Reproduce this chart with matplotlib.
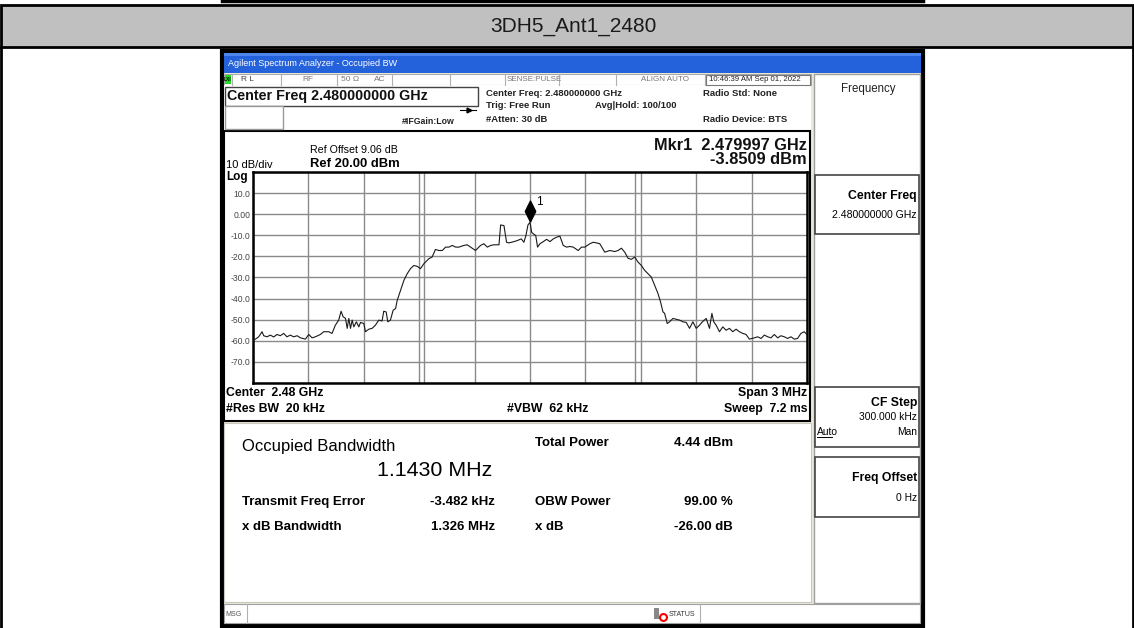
import numpy as np
import matplotlib.pyplot as plt
from matplotlib.patches import Rectangle
from matplotlib.path import Path

plt.rcParams['font.family'] = ['Liberation Sans', 'DejaVu Sans']

# trace: offset from 2.48 GHz (MHz) and level (dBm)
freq_mhz = [-1.500, -1.487, -1.469, -1.451, -1.442, -1.424, -1.406, -1.388, -1.370, -1.352,
            -1.334, -1.316, -1.298, -1.280, -1.261, -1.243, -1.216, -1.198, -1.180, -1.162,
            -1.135, -1.117, -1.090, -1.072, -1.054, -1.036, -1.023, -1.012, -0.999, -0.990,
            -0.981, -0.972, -0.963, -0.954, -0.940, -0.927, -0.918, -0.900, -0.891, -0.873,
            -0.855, -0.837, -0.819, -0.801, -0.792, -0.779, -0.770, -0.756, -0.741, -0.728,
            -0.719, -0.701, -0.683, -0.665, -0.647, -0.629, -0.611, -0.593, -0.575, -0.548,
            -0.530, -0.512, -0.494, -0.475, -0.457, -0.439, -0.421, -0.403, -0.385, -0.358,
            -0.340, -0.322, -0.295, -0.268, -0.250, -0.231, -0.213, -0.195, -0.168, -0.159,
            -0.141, -0.127, -0.114, -0.087, -0.069, -0.047, -0.033, -0.022, -0.011, 0.000,
            0.009, 0.018, 0.031, 0.041, 0.054, 0.072, 0.090, 0.108, 0.126, 0.144,
            0.162, 0.180, 0.198, 0.216, 0.234, 0.261, 0.279, 0.297, 0.324, 0.342,
            0.360, 0.378, 0.405, 0.432, 0.459, 0.477, 0.495, 0.513, 0.531, 0.549,
            0.567, 0.585, 0.603, 0.621, 0.639, 0.657, 0.675, 0.693, 0.707, 0.720,
            0.729, 0.743, 0.756, 0.774, 0.792, 0.810, 0.828, 0.846, 0.864, 0.882,
            0.900, 0.918, 0.936, 0.954, 0.972, 0.985, 0.995, 1.008, 1.026, 1.044,
            1.062, 1.080, 1.098, 1.116, 1.134, 1.152, 1.170, 1.188, 1.215, 1.233,
            1.251, 1.269, 1.287, 1.305, 1.323, 1.341, 1.359, 1.377, 1.395, 1.413,
            1.431, 1.449, 1.467, 1.485, 1.499]
level_dbm = [-59.7, -59.2, -58.1, -55.7, -57.6, -58.1, -57.3, -58.2, -57.0, -57.6,
             -56.5, -58.1, -57.3, -58.1, -57.6, -58.6, -59.2, -57.0, -58.6, -58.1,
             -57.0, -55.7, -55.7, -56.5, -52.6, -50.2, -46.0, -48.6, -49.4, -54.1,
             -49.4, -54.1, -50.2, -53.4, -51.0, -53.4, -51.3, -51.8, -55.7, -54.5,
             -54.1, -52.6, -50.2, -50.6, -46.0, -46.3, -51.0, -50.2, -45.5, -44.7,
             -40.8, -36.1, -31.4, -28.2, -25.8, -24.3, -24.7, -25.8, -23.5, -21.1,
             -20.3, -16.7, -17.2, -17.2, -15.6, -15.6, -14.8, -15.6, -15.6, -14.8,
             -14.5, -15.6, -17.2, -14.8, -14.0, -15.6, -14.8, -14.5, -14.5, -5.1,
             -5.4, -13.3, -13.6, -13.0, -12.5, -11.7, -13.3, -10.1, -5.1, -3.85,
             -8.6, -9.3, -10.1, -15.6, -14.0, -13.0, -11.9, -13.0, -11.7, -10.9,
             -10.4, -14.8, -15.6, -15.3, -15.6, -17.2, -15.6, -15.6, -14.0, -13.3,
             -13.6, -14.0, -18.0, -17.2, -17.7, -17.2, -16.1, -18.0, -20.9, -21.4,
             -20.3, -22.7, -24.3, -26.6, -28.2, -29.8, -33.7, -37.6, -41.6, -46.3,
             -47.0, -51.8, -51.0, -49.4, -49.8, -50.2, -51.0, -51.3, -54.1, -51.0,
             -54.1, -52.6, -50.8, -49.4, -54.1, -47.0, -51.0, -52.6, -55.7, -53.4,
             -55.0, -54.1, -55.7, -54.5, -55.7, -56.5, -57.0, -59.2, -58.6, -58.1,
             -58.9, -57.3, -58.1, -58.6, -57.0, -58.6, -57.6, -58.1, -58.9, -58.1,
             -59.2, -58.9, -56.5, -55.7, -57.0]

mkr_freq = 0.0
mkr_level = -3.8509
obw_edges = [-0.575, 0.568]
ref_level = 20
db_per_div = 10
span_mhz = 3.0
y_labels = ['', '-70.0', '-60.0', '-50.0', '-40.0', '-30.0', '-20.0', '-10.0', '0.00', '10.0', '']

W, H = 1134, 628
fig = plt.figure(figsize=(W / 100, H / 100), dpi=100)
bg = fig.add_axes([0, 0, 1, 1])
bg.set_xlim(0, W)
bg.set_ylim(H, 0)
bg.axis('off')


def box(x0, y0, x1, y1, fc='none', ec='none', lw=1.0, z=1):
    bg.add_patch(Rectangle((x0, y0), x1 - x0, y1 - y0, fc=fc, ec=ec, lw=lw, zorder=z))


def txt(x, y, s, size, ha='left', weight='normal', color='black', **kw):
    bg.text(x, y, s, fontsize=size, ha=ha, va='center', fontweight=weight, color=color, zorder=5, **kw)


# page header band
bg.plot([222, 923], [1, 1], color='black', lw=2.5)
box(1, 5, W - 1, 47, fc='#c0c0c0', ec='black', lw=2)
bg.plot([1, 1], [47, H], color='black', lw=2)
bg.plot([W - 1, W - 1], [47, H], color='black', lw=2)
txt(573, 27, '3DH5_Ant1_2480', 15, ha='center', color='#1a1a1a')

# analyzer window
box(222, 51, 923, 626, fc='#ece9d8', ec='black', lw=3)
box(224, 53, 921, 73, fc='#2462dc', z=2)
box(224, 53, 921, 56, fc='#4d86ec', z=2)
txt(228, 64, 'Agilent Spectrum Analyzer - Occupied BW', 6.5, color='white')

# status row
box(224, 74, 811, 85, fc='white', ec='#a8a8a8', lw=0.8, z=2)
for xs in [232, 281, 337, 392, 450, 505, 559, 616, 705]:
    bg.plot([xs, xs], [74, 85], color='#b0b0b0', lw=0.8, zorder=3)
box(224.5, 75, 231, 84, fc='#22dd22', z=3)
txt(227.7, 79.5, 'LXI', 3.5, ha='center', weight='bold')
txt(241, 79.5, 'R L', 6, color='#444')
txt(302, 79.5, 'RF', 6, color='#777')
txt(341, 79.5, '50 Ω', 6, color='#777')
txt(374, 79.5, 'AC', 6, color='#777')
txt(507, 79.5, 'SENSE:PULSE', 5.8, color='#777')
txt(641, 79.5, 'ALIGN AUTO', 5.8, color='#777')
box(706, 75, 810, 84.5, fc='white', ec='#777', lw=0.8, z=3)
txt(709, 79.5, '10:46:39 AM Sep 01, 2022', 5.6, color='#222')

# settings header
box(224, 85, 811, 130, fc='white', z=2)
box(225, 86.5, 478, 106, fc='white', ec='#444', lw=1, z=3)
box(225, 106, 283, 129, fc='white', ec='#999', lw=1, z=3)
txt(227, 96, 'Center Freq 2.480000000 GHz', 10.3, weight='bold', color='#111')
bg.plot([460, 476], [109.5, 109.5], color='black', lw=0.8, zorder=4)
bg.plot([469], [109.5], marker='>', ms=3.5, color='black', zorder=4)
txt(402, 122, '#IFGain:Low', 6.3, weight='bold', color='#222')
txt(486, 93, 'Center Freq: 2.480000000 GHz', 6.8, weight='bold', color='#222')
txt(486, 106, 'Trig: Free Run', 6.8, weight='bold', color='#222')
txt(595, 106, 'Avg|Hold: 100/100', 6.8, weight='bold', color='#222')
txt(486, 119, '#Atten: 30 dB', 6.8, weight='bold', color='#222')
txt(703, 93, 'Radio Std: None', 6.8, weight='bold', color='#222')
txt(703, 119, 'Radio Device: BTS', 6.8, weight='bold', color='#222')

# graph panel
box(224, 131, 810, 421, fc='white', ec='black', lw=1.5, z=2)
txt(310, 150, 'Ref Offset 9.06 dB', 7.7)
txt(310, 164, 'Ref 20.00 dBm', 9.4, weight='bold')
txt(226, 165, '10 dB/div', 8)
txt(226, 177, 'Log', 8.5, weight='bold')
txt(807, 145, 'Mkr1  2.479997 GHz', 11.8, ha='right', weight='bold', color='#111')
txt(807, 160, '-3.8509 dBm', 11.8, ha='right', weight='bold', color='#111')
txt(226, 393, 'Center  2.48 GHz', 8.8, weight='bold')
txt(226, 409, '#Res BW  20 kHz', 8.8, weight='bold')
txt(507, 409, '#VBW  62 kHz', 8.8, weight='bold')
txt(807, 393, 'Span 3 MHz', 8.8, ha='right', weight='bold')
txt(807, 409, 'Sweep  7.2 ms', 8.8, ha='right', weight='bold')

# measurement panel
box(224, 423, 811, 602, fc='white', ec='#c8c8c0', lw=0.8, z=2)
txt(242, 446, 'Occupied Bandwidth', 12)
txt(435, 470, '1.1430 MHz', 15.4, ha='center')
txt(535, 443, 'Total Power', 9.5, weight='bold')
txt(733, 443, '4.44 dBm', 9.5, ha='right', weight='bold')
txt(242, 502, 'Transmit Freq Error', 9.5, weight='bold')
txt(495, 502, '-3.482 kHz', 9.5, ha='right', weight='bold')
txt(535, 502, 'OBW Power', 9.5, weight='bold')
txt(733, 502, '99.00 %', 9.5, ha='right', weight='bold')
txt(242, 527, 'x dB Bandwidth', 9.5, weight='bold')
txt(495, 527, '1.326 MHz', 9.5, ha='right', weight='bold')
txt(535, 527, 'x dB', 9.5, weight='bold')
txt(733, 527, '-26.00 dB', 9.5, ha='right', weight='bold')

# softkey panel
box(814, 74, 920, 603, fc='white', ec='#a0a0a0', lw=1, z=2)
txt(868, 89, 'Frequency', 8.3, ha='center', color='#222')
box(815, 175, 919, 234, fc='white', ec='#444', lw=1.2, z=3)
txt(917, 196, 'Center Freq', 8.8, ha='right', weight='bold')
txt(917, 215, '2.480000000 GHz', 7.6, ha='right')
box(815, 387, 919, 447, fc='white', ec='#444', lw=1.2, z=3)
txt(917, 403, 'CF Step', 8.8, ha='right', weight='bold')
txt(917, 417, '300.000 kHz', 7.4, ha='right')
txt(817, 432, 'Auto', 7.4)
bg.plot([817, 832], [437, 437], color='black', lw=0.7, zorder=5)
txt(917, 432, 'Man', 7.4, ha='right')
box(815, 457, 919, 517, fc='white', ec='#444', lw=1.2, z=3)
txt(917, 478, 'Freq Offset', 8.8, ha='right', weight='bold')
txt(917, 498, '0 Hz', 7.4, ha='right')

# message bar
box(224, 604, 920, 623, fc='white', ec='#a0a0a0', lw=0.8, z=2)
bg.plot([247, 247], [604, 623], color='#b0b0b0', lw=0.8, zorder=3)
bg.plot([700, 700], [604, 623], color='#b0b0b0', lw=0.8, zorder=3)
txt(225, 614, 'MSG', 5, color='#555')
box(654, 608, 659, 619, fc='#888', z=3)
bg.plot([663], [616.5], marker='o', ms=5, mfc='white', mec='red', mew=1.5, zorder=4)
txt(669, 614, 'STATUS', 5, color='#333')

# spectrum graticule
sp = fig.add_axes([253 / W, (H - 383) / H, 554 / W, 211 / H])
sp.set_xlim(-span_mhz / 2, span_mhz / 2)
sp.set_ylim(ref_level - 10 * db_per_div, ref_level)
sp.set_xticks(np.linspace(-span_mhz / 2, span_mhz / 2, 11))
sp.set_yticks(np.arange(ref_level - 10 * db_per_div, ref_level + 1, db_per_div))
sp.set_xticklabels([])
sp.set_yticklabels(y_labels)
sp.tick_params(length=0, labelsize=6.2, pad=2, labelcolor='#444')
sp.grid(True, color='#8a8a8a', lw=1)
for e in obw_edges:
    sp.axvline(e, color='#8a8a8a', lw=1)
for s in sp.spines.values():
    s.set_linewidth(1.8)
sp.plot(freq_mhz, level_dbm, color='#1a1a1a', lw=0.8, zorder=4)

# marker diamond sitting on the peak
diamond = Path([(0, -1), (0.5, 0), (0, 1), (-0.5, 0), (0, -1)])
sp.plot([mkr_freq], [mkr_level + 5.2], marker=diamond, ms=15, color='black', zorder=5)
sp.annotate('1', (mkr_freq, mkr_level), xytext=(4.5, 14.5), textcoords='offset points',
            fontsize=8.5, va='center', ha='left')

fig.savefig('out.png', dpi=100)
